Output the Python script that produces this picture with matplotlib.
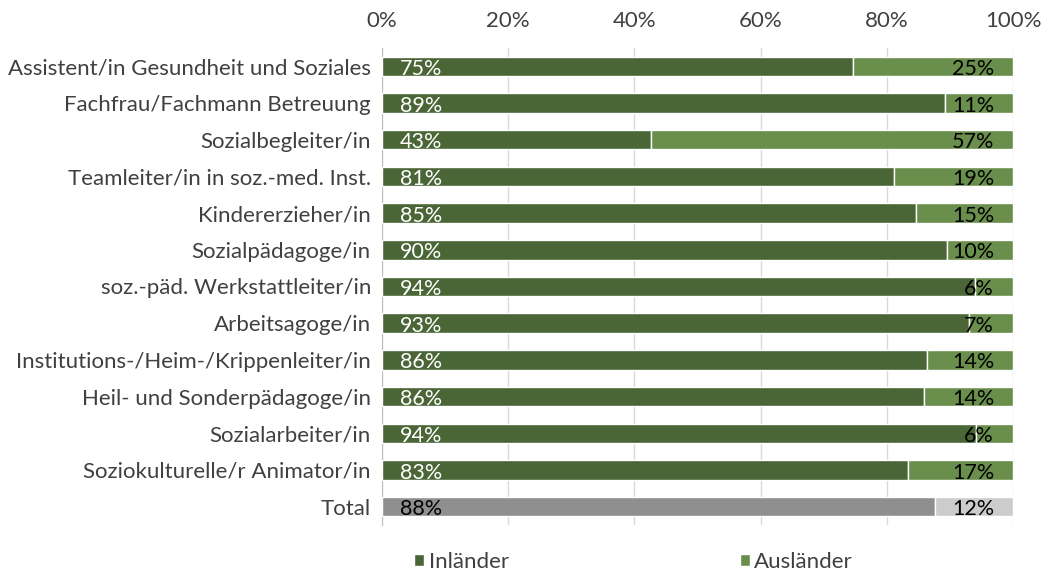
import matplotlib.pyplot as plt
import numpy as np

plt.rcParams['font.family'] = ['Lato', 'DejaVu Sans']

categories = [
    'Assistent/in Gesundheit und Soziales',
    'Fachfrau/Fachmann Betreuung',
    'Sozialbegleiter/in',
    'Teamleiter/in in soz.-med. Inst.',
    'Kindererzieher/in',
    'Sozialpädagoge/in',
    'soz.-päd. Werkstattleiter/in',
    'Arbeitsagoge/in',
    'Institutions-/Heim-/Krippenleiter/in',
    'Heil- und Sonderpädagoge/in',
    'Sozialarbeiter/in',
    'Soziokulturelle/r Animator/in',
    'Total',
]
inlaender = [74.6, 89.2, 42.7, 81.2, 84.6, 89.6, 94.0, 93.1, 86.3, 85.9, 94.2, 83.3, 87.6]
auslaender = [25.4, 10.8, 57.3, 18.8, 15.4, 10.4, 6.0, 6.9, 13.7, 14.1, 5.8, 16.7, 12.4]
inl_labels = ['75%', '89%', '43%', '81%', '85%', '90%', '94%', '93%', '86%', '86%', '94%', '83%', '88%']
ausl_labels = ['25%', '11%', '57%', '19%', '15%', '10%', '6%', '7%', '14%', '14%', '6%', '17%', '12%']

dark_green = '#4a6636'
light_green = '#6a8f4c'
dark_gray = '#8f8f8f'
light_gray = '#cccccc'

fig = plt.figure(figsize=(10.44, 5.75), dpi=100)
ax = fig.add_axes([382 / 1044, 1 - 525 / 575, (1013 - 382) / 1044, (525 - 48) / 575])

y = np.arange(len(categories))
n = len(categories)
c1 = [dark_green] * (n - 1) + [dark_gray]
c2 = [light_green] * (n - 1) + [light_gray]

h = 0.53
ax.barh(y, inlaender, height=h, color=c1, edgecolor='white', linewidth=1, label='Inländer', zorder=3)
ax.barh(y, auslaender, left=inlaender, height=h, color=c2, edgecolor='white', linewidth=1,
        label='Ausländer', zorder=3)

fs = 16
for i in range(n):
    tc = 'black' if i == n - 1 else 'white'
    ax.text(2.8, y[i] + 0.07, inl_labels[i], color=tc, fontsize=15.5, va='center', ha='left', zorder=4)
    ax.text(97, y[i] + 0.07, ausl_labels[i], color='black', fontsize=15.5, va='center', ha='right',
            zorder=4)

ax.set_xlim(0, 100)
ax.set_ylim(n - 0.5, -0.5)
ax.set_yticks(y)
ax.set_yticklabels(categories, fontsize=fs)
ax.set_xticks(np.arange(0, 101, 20))
ax.set_xticklabels([f'{v}%' for v in range(0, 101, 20)], fontsize=fs)
ax.xaxis.tick_top()
ax.tick_params(axis='x', length=0, pad=12)
ax.tick_params(axis='y', length=0, pad=8)
for lbl in ax.get_xticklabels() + ax.get_yticklabels():
    lbl.set_color('#404040')
ax.grid(axis='x', color='#d9d9d9', linewidth=1, zorder=0)
for s in ['top', 'right', 'bottom']:
    ax.spines[s].set_visible(False)
ax.spines['left'].set_color('#bfbfbf')

handles, labels = ax.get_legend_handles_labels()
leg = fig.legend(handles, labels, loc='center', bbox_to_anchor=(0.607, 0.022), ncol=2,
                 frameon=False, fontsize=fs, handlelength=0.45, handleheight=0.45,
                 handletextpad=0.2, columnspacing=10.4)
for t in leg.get_texts():
    t.set_color('#404040')

fig.savefig('out.png', dpi=100)
